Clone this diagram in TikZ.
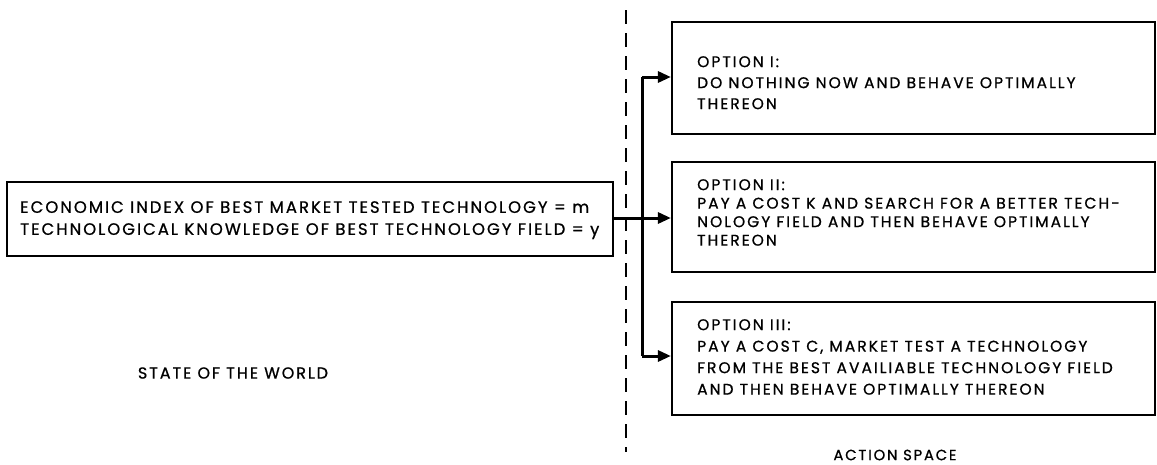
\documentclass[tikz,border=0pt]{standalone}
\usepackage{fontspec}
\setmainfont{Poppins}[LetterSpace=12,FakeBold=0.8]
\usetikzlibrary{arrows.meta}
\begin{document}
\begin{tikzpicture}[x=1pt,y=-1pt,
  conn/.style={line width=3pt},
  arr/.style={conn,-{Triangle[length=13pt,width=11pt]},shorten >=0.5pt},
  bx/.style={draw,line width=1.2pt,inner sep=0pt},
  txt/.style={font=\fontsize{16.5}{22}\selectfont,align=left,anchor=north west,inner sep=0pt},
  otxt/.style={font=\fontsize{15.5}{#1}\selectfont\addfontfeature{LetterSpace=13},align=left,anchor=north west,inner sep=0pt},
  lbl/.style={font=\fontsize{#1}{20}\selectfont,inner sep=0pt}]
\useasboundingbox (0,0) rectangle (1157,464);
% boxes
\node (left) at (310,219) [bx,minimum width=606pt,minimum height=74pt] {};
\node[txt] (lefttext) at (20,201) {ECONOMIC INDEX OF BEST MARKET TESTED TECHNOLOGY = m\\TECHNOLOGICAL KNOWLEDGE OF BEST TECHNOLOGY FIELD = y};
\node (o1) at (913.5,78) [bx,minimum width=483pt,minimum height=112pt] {};
\node (o2) at (913.5,217) [bx,minimum width=483pt,minimum height=110pt] {};
\node (o3) at (913.5,358.5) [bx,minimum width=483pt,minimum height=113pt] {};
\node[otxt=21] (t1) at (697,56) {OPTION I:\\DO NOTHING NOW AND BEHAVE OPTIMALLY\\THEREON};
\node[otxt=18.5] (t2) at (697,179) {OPTION II:\\PAY A COST K AND SEARCH FOR A BETTER TECH-\\NOLOGY FIELD AND THEN BEHAVE OPTIMALLY\\THEREON};
\node[otxt=21.5] (t3) at (697,319) {OPTION III:\\PAY A COST C, MARKET TEST A TECHNOLOGY\\FROM THE BEST AVAILIABLE TECHNOLOGY FIELD\\AND THEN BEHAVE OPTIMALLY THEREON};
\node[lbl=16] (sw) at (233,373) {STATE OF THE WORLD};
\node[lbl=14.8] (as) at (895,455) {ACTION SPACE};
% dashed divider
\coordinate (dtop) at (626,10);
\coordinate (dbot) at (626,452);
\draw[line width=1.3pt,dash pattern=on 14pt off 9pt] (dtop) -- (dbot);
% connectors
\coordinate (vt) at (642,77);
\coordinate (vb) at (642,356);
\draw[conn] (vt) -- (vb);
\draw[conn] (left.east |- 0,218) -- (642,218);
\draw[arr] (vt) -- (vt -| o1.west);
\draw[arr] (642,218) -- (o2.west |- 0,218);
\draw[arr] (vb) -- (vb -| o3.west);
\end{tikzpicture}
\end{document}
